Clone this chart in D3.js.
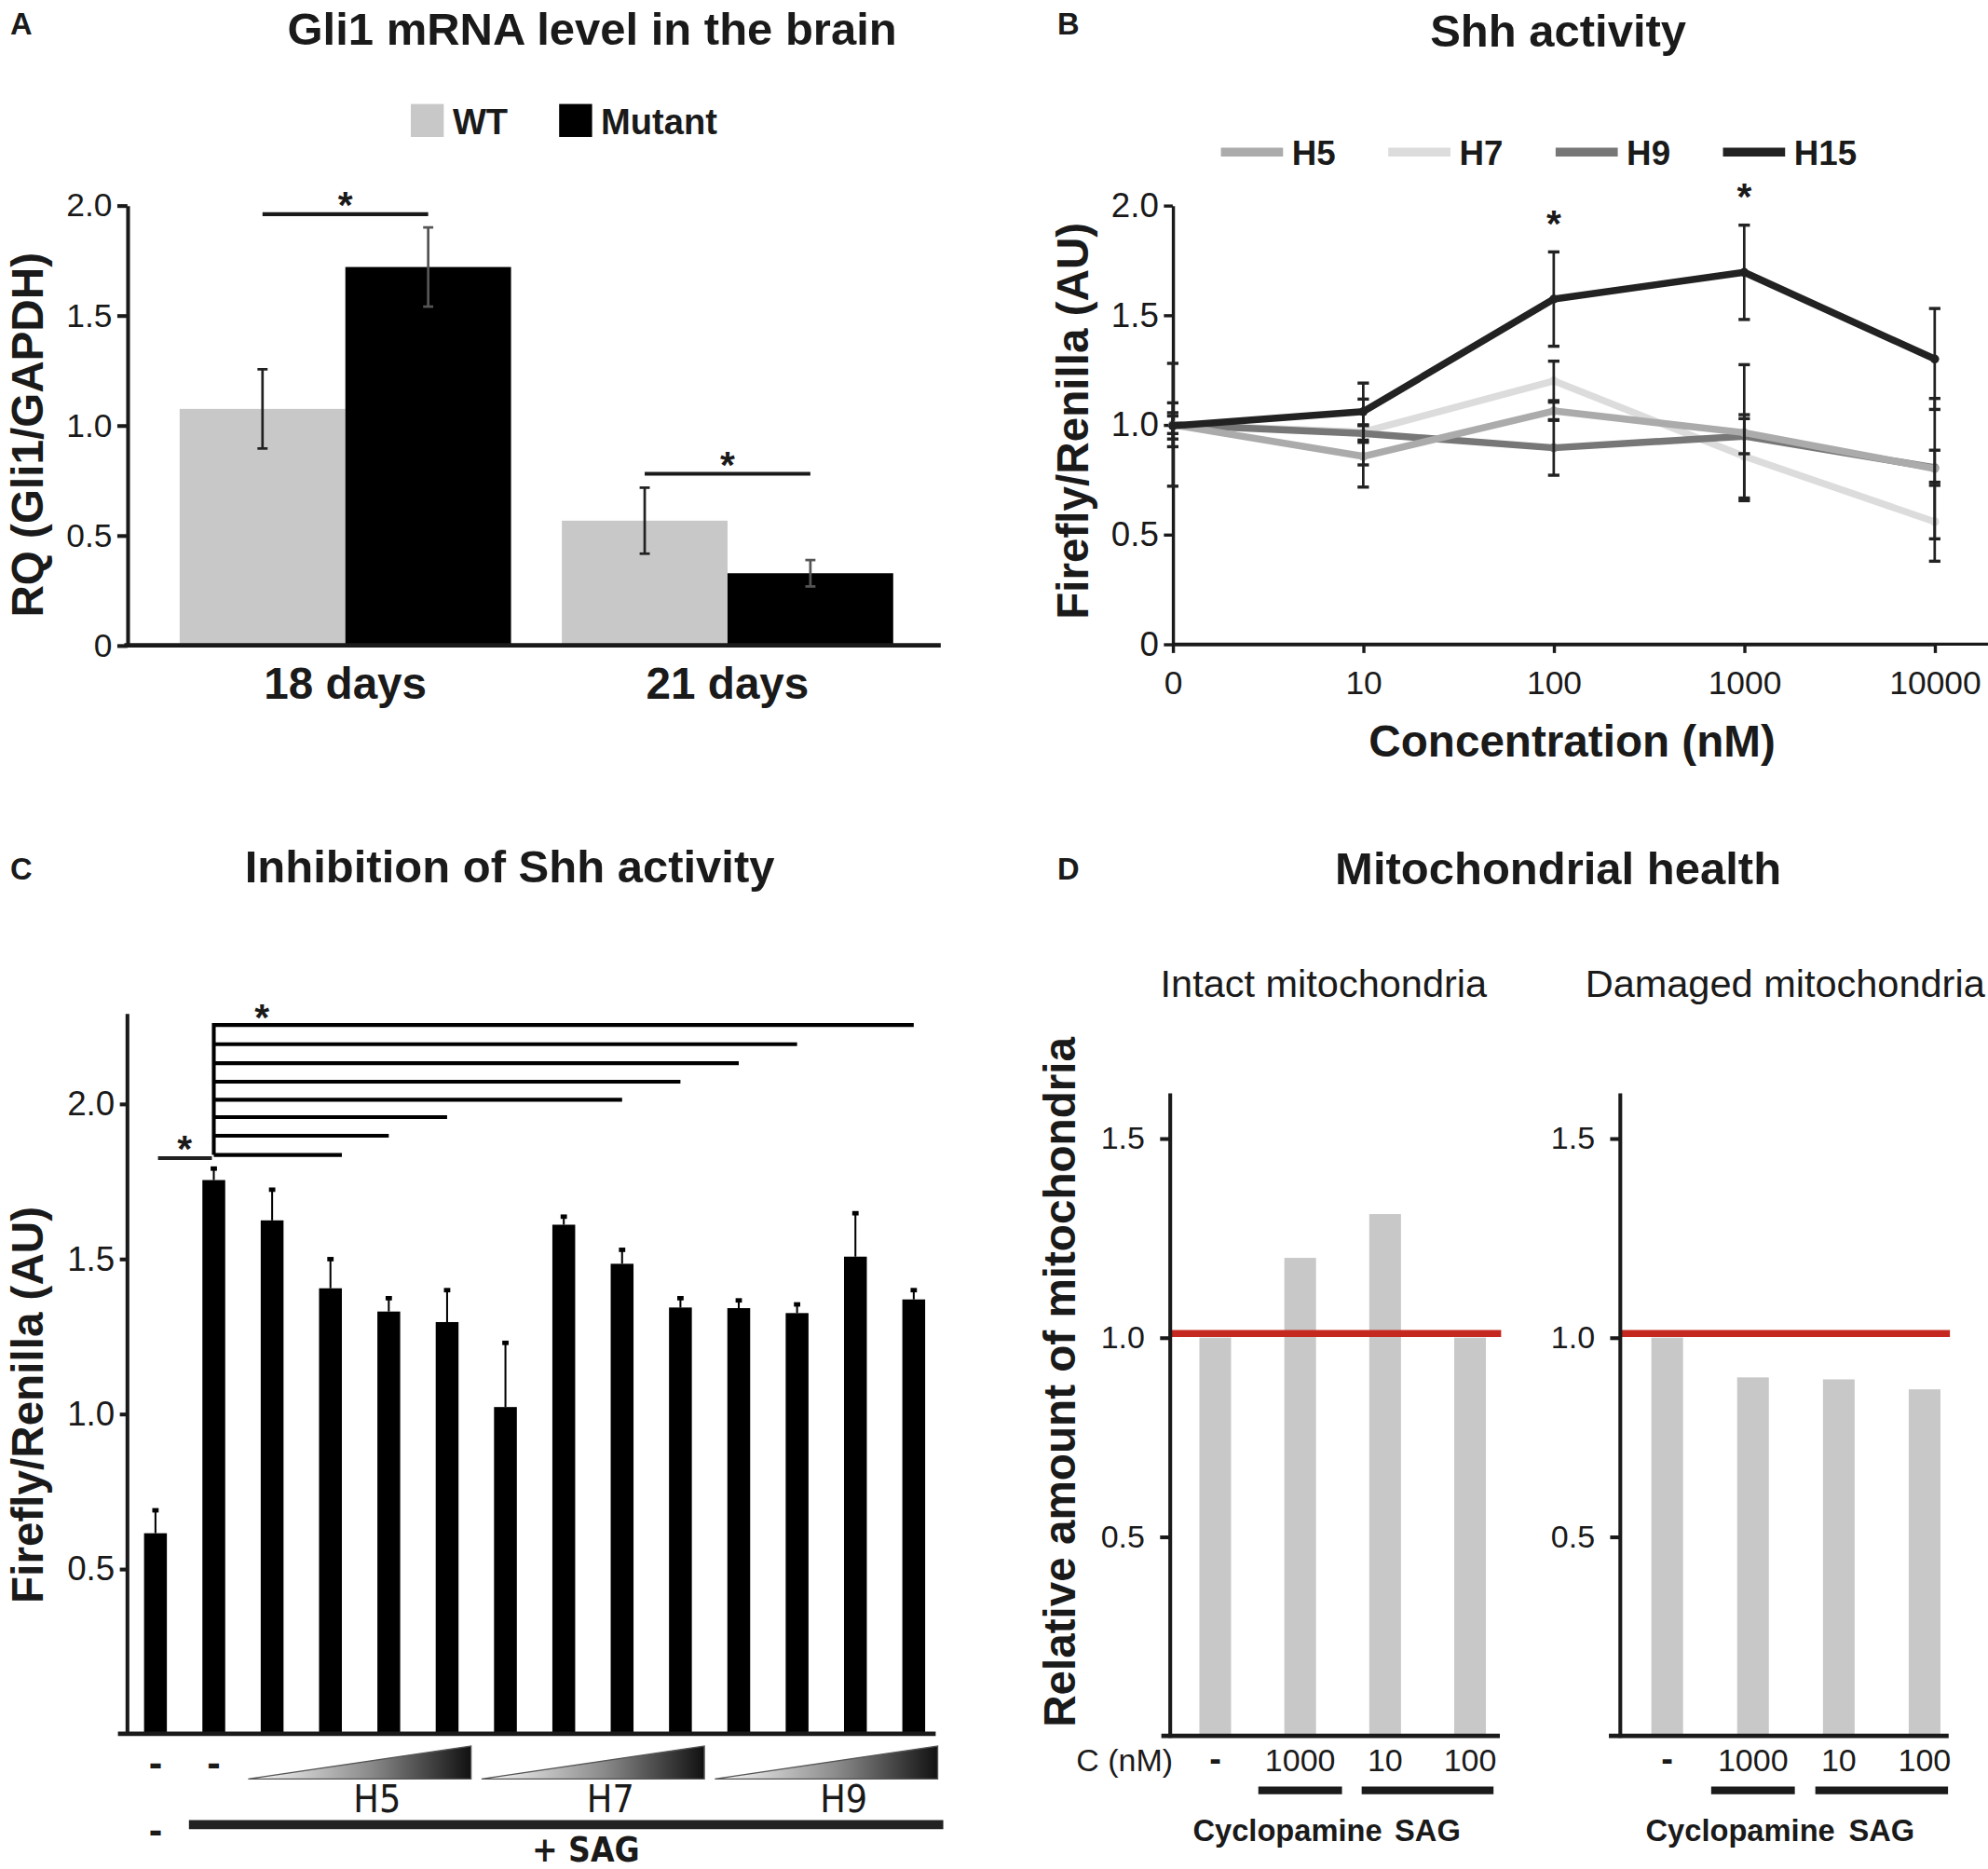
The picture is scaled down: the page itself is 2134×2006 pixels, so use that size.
<!DOCTYPE html>
<html><head><meta charset="utf-8">
<script src="https://cdn.jsdelivr.net/npm/d3@7"></script>
<style>html,body{margin:0;padding:0;background:#fff;}svg{display:block;}</style>
</head><body>
<svg id="chart"></svg>
<script>
// ---------------- DATA ----------------
// Panel A
const gliGroups = ["18 days", "21 days"];
const gliSeries = ["WT", "Mutant"];
const gliWT = [1.075, 0.567];
const gliWTErr = [0.18, 0.15];
const gliMutant = [1.72, 0.328];
const gliMutantErr = [0.18, 0.06];
const gliSigLevel = [1.96, 0.78];
const gliYTicks = [0, 0.5, 1.0, 1.5, 2.0];

// Panel B
const concLabels = ["0", "10", "100", "1000", "10000"];
const shhSeries = ["H5", "H7", "H9", "H15"];
const shhH5 = [1.0, 0.856, 1.063, 0.964, 0.80];
const shhH5Err = [0.10, 0.14, 0.04, 0.31, 0.32];
const shhH7 = [1.0, 0.967, 1.20, 0.856, 0.558];
const shhH7Err = [0.28, 0.15, 0.09, 0.19, 0.18];
const shhH9 = [1.0, 0.96, 0.895, 0.948, 0.804];
const shhH9Err = [0.04, 0.04, 0.125, 0.08, 0.08];
const shhH15 = [0.995, 1.06, 1.573, 1.695, 1.30];
const shhH15Err = [0.06, 0.13, 0.215, 0.215, 0.23];
const shhStars = ["100", "1000"];
const shhYTicks = [0, 0.5, 1.0, 1.5, 2.0];

// Panel C
const inhibBars = ["ctrl", "SAG", "H5-1", "H5-2", "H5-3", "H5-4", "H7-1", "H7-2", "H7-3", "H7-4", "H9-1", "H9-2", "H9-3", "H9-4"];
const inhibValues = [0.615, 1.754, 1.624, 1.405, 1.33, 1.296, 1.022, 1.61, 1.484, 1.343, 1.341, 1.325, 1.507, 1.369];
const inhibErr = [0.075, 0.038, 0.10, 0.095, 0.044, 0.104, 0.208, 0.027, 0.046, 0.031, 0.026, 0.029, 0.141, 0.031];
const inhibCompounds = ["H5", "H7", "H9"];
const inhibBracketEnds = ["H5-2", "H5-3", "H5-4", "H7-3", "H7-4", "H9-1", "H9-2", "H9-4"];
const inhibBracketLevels = [1.835, 1.897, 1.957, 2.013, 2.071, 2.131, 2.192, 2.254];
const inhibYTicks = [0.5, 1.0, 1.5, 2.0];

// Panel D
const mitoCats = ["-", "1000", "10", "100"];
const mitoIntact = [1.0, 1.20, 1.31, 1.0];
const mitoDamaged = [1.0, 0.90, 0.895, 0.87];
const mitoRef = 1.01;
const mitoYTicks = [0.5, 1.0, 1.5];

// ---------------- SETUP ----------------
const VW = 1568, VH = 1474;
const FF = "'Liberation Sans', Arial, Helvetica, sans-serif";
const FN = "'Liberation Sans Narrow', 'Arial Narrow', 'DejaVu Sans Condensed', sans-serif";
const INK = "#1a1a1a";
const svg = d3.select("#chart").attr("width", 2134).attr("height", 2006)
  .attr("viewBox", `0 0 ${VW} ${VH}`);
svg.append("rect").attr("width", VW).attr("height", VH).attr("fill", "#fff");

function txt(g, x, y, s, o = {}) {
  return g.append("text").attr("x", x).attr("y", y).text(s)
    .attr("font-family", o.ff || FF).attr("font-size", o.size || 24)
    .attr("font-weight", o.bold ? "bold" : "normal")
    .attr("text-anchor", o.anchor || "middle").attr("fill", o.fill || INK);
}
function vtxt(g, x, y, s, size) {
  return g.append("text").attr("transform", `translate(${x},${y}) rotate(-90)`)
    .attr("text-anchor", "middle").attr("font-family", FF).attr("font-size", size)
    .attr("font-weight", "bold").attr("fill", INK).text(s);
}
function line(g, x1, y1, x2, y2, w, c) {
  return g.append("line").attr("x1", x1).attr("y1", y1).attr("x2", x2).attr("y2", y2)
    .attr("stroke", c || INK).attr("stroke-width", w);
}
function styleAxis(ax, w, size, ff) {
  ax.select(".domain").attr("stroke", INK).attr("stroke-width", w);
  ax.selectAll(".tick line").attr("stroke", INK).attr("stroke-width", w);
  ax.selectAll(".tick text").attr("font-family", ff || FF).attr("font-size", size).attr("fill", INK);
}
const fmt = d => d === 0 ? "0" : d3.format(".1f")(d);

// ---------------- PANEL A ----------------
{
  const g = svg.append("g");
  txt(g, 8, 27, "A", { bold: true, size: 24, anchor: "start" });
  txt(g, 467, 35, "Gli1 mRNA level in the brain", { bold: true, size: 36 });
  const yA = d3.scaleLinear().domain([0, 2]).range([509, 162]);
  const xA = d3.scaleBand().domain(gliGroups).range([121.8, 724.4]).paddingInner(0.133).paddingOuter(0.066);
  const xS = d3.scaleBand().domain(gliSeries).range([0, xA.bandwidth()]);
  const col = { WT: "#c8c8c8", Mutant: "#000" };
  const leg = [{ s: "WT", x: 324 }, { s: "Mutant", x: 441 }];
  leg.forEach(l => {
    g.append("rect").attr("x", l.x).attr("y", 82).attr("width", 26).attr("height", 26).attr("fill", col[l.s]);
    txt(g, l.x + 33, 106, l.s, { bold: true, size: 28, anchor: "start" });
  });
  const data = gliGroups.flatMap((gr, i) => [
    { g: gr, s: "WT", v: gliWT[i], e: gliWTErr[i] },
    { g: gr, s: "Mutant", v: gliMutant[i], e: gliMutantErr[i] }]);
  g.selectAll("rect.bar").data(data).enter().append("rect").attr("class", "bar")
    .attr("x", d => xA(d.g) + xS(d.s)).attr("width", xS.bandwidth())
    .attr("y", d => yA(d.v)).attr("height", d => yA(0) - yA(d.v)).attr("fill", d => col[d.s]);
  data.forEach(d => {
    const cx = xA(d.g) + xS(d.s) + xS.bandwidth() / 2;
    const c = d.s === "WT" ? "#222" : "#555";
    line(g, cx, yA(d.v - d.e), cx, yA(d.v + d.e), 2, c);
    line(g, cx - 4, yA(d.v - d.e), cx + 4, yA(d.v - d.e), 2, c);
    line(g, cx - 4, yA(d.v + d.e), cx + 4, yA(d.v + d.e), 2, c);
  });
  gliGroups.forEach((gr, i) => {
    const x1 = xA(gr) + xS("WT") + xS.bandwidth() / 2;
    const x2 = xA(gr) + xS("Mutant") + xS.bandwidth() / 2;
    line(g, x1, yA(gliSigLevel[i]), x2, yA(gliSigLevel[i]), 3);
    txt(g, (x1 + x2) / 2, yA(gliSigLevel[i]) + 3, "*", { bold: true, size: 30 });
    txt(g, xA(gr) + xA.bandwidth() / 2, 551, gr, { bold: true, size: 35 });
  });
  const ax = g.append("g").attr("transform", "translate(100.5,0)")
    .call(d3.axisLeft(yA).tickValues(gliYTicks).tickFormat(fmt).tickSize(8).tickSizeOuter(0).tickPadding(4));
  styleAxis(ax, 3, 26);
  line(g, 98, yA(0), 742, yA(0), 3.5);
  vtxt(g, 34, 343, "RQ (Gli1/GAPDH)", 35);
}

// ---------------- PANEL B ----------------
{
  const g = svg.append("g");
  txt(g, 834, 27, "B", { bold: true, size: 24, anchor: "start" });
  txt(g, 1229, 37, "Shh activity", { bold: true, size: 36 });
  const xB = d3.scalePoint().domain(concLabels).range([925, 1526]);
  const yB = d3.scaleLinear().domain([0, 2]).range([508, 162]);
  const col = { H5: "#ababab", H7: "#dcdcdc", H9: "#777777", H15: "#222222" };
  const vals = { H5: shhH5, H7: shhH7, H9: shhH9, H15: shhH15 };
  const errs = { H5: shhH5Err, H7: shhH7Err, H9: shhH9Err, H15: shhH15Err };
  shhSeries.forEach((s, i) => {
    const x0 = 963 + i * 132;
    line(g, x0, 120, x0 + 49, 120, 7, col[s]);
    txt(g, x0 + 56, 130, s, { bold: true, size: 27, anchor: "start" });
  });
  const yax = g.append("g").attr("transform", "translate(925,0)")
    .call(d3.axisLeft(yB).tickValues(shhYTicks).tickFormat(fmt).tickSize(7).tickSizeOuter(0).tickPadding(4));
  styleAxis(yax, 2.5, 27);
  const xax = g.append("g").attr("transform", `translate(0,${yB(0)})`)
    .call(d3.axisBottom(xB).tickSize(7).tickSizeOuter(0).tickPadding(14));
  styleAxis(xax, 2.5, 26);
  line(g, 925, yB(0), 1568, yB(0), 2.5);
  const lg = d3.line().x((d, i) => xB(concLabels[i])).y(d => yB(d));
  ["H7", "H9", "H5", "H15"].forEach(s => {
    g.append("path").attr("d", lg(vals[s])).attr("fill", "none")
      .attr("stroke", col[s]).attr("stroke-width", 5.5).attr("stroke-linejoin", "round");
    g.selectAll(null).data(vals[s]).enter().append("circle")
      .attr("cx", (d, i) => xB(concLabels[i])).attr("cy", d => yB(d)).attr("r", 3.5).attr("fill", col[s]);
  });
  shhSeries.forEach(s => {
    vals[s].forEach((v, i) => {
      const cx = xB(concLabels[i]), e = errs[s][i];
      line(g, cx, yB(v - e), cx, yB(v + e), 2, "#222");
      line(g, cx - 4.5, yB(v - e), cx + 4.5, yB(v - e), 2.5, "#222");
      line(g, cx - 4.5, yB(v + e), cx + 4.5, yB(v + e), 2.5, "#222");
    });
  });
  shhStars.forEach(c => {
    const i = concLabels.indexOf(c);
    txt(g, xB(c), yB(shhH15[i] + shhH15Err[i]) - 12, "*", { bold: true, size: 30 });
  });
  txt(g, 1240, 597, "Concentration (nM)", { bold: true, size: 35 });
  vtxt(g, 858, 332, "Firefly/Renilla (AU)", 35);
}

// ---------------- PANEL C ----------------
{
  const g = svg.append("g");
  txt(g, 8, 694, "C", { bold: true, size: 24, anchor: "start" });
  txt(g, 402, 696, "Inhibition of Shh activity", { bold: true, size: 36 });
  const yC = d3.scaleLinear().domain([0, 2]).range([1359.6, 870.5]);
  const cBase = -0.032, cTop = 2.29;
  const xC = d3.scalePoint().domain(inhibBars).range([122.6, 720.7]);
  const step = xC.step(), bw = 18;
  g.selectAll("rect.bar").data(inhibValues).enter().append("rect").attr("class", "bar")
    .attr("x", (d, i) => xC(inhibBars[i]) - bw / 2).attr("width", bw)
    .attr("y", d => yC(d)).attr("height", d => yC(cBase) - yC(d)).attr("fill", "#000");
  inhibValues.forEach((v, i) => {
    const cx = xC(inhibBars[i]);
    line(g, cx, yC(v), cx, yC(v + inhibErr[i]), 1.5, "#000");
    g.append("rect").attr("x", cx - 2.5).attr("y", yC(v + inhibErr[i]) - 1.5).attr("width", 5).attr("height", 3.5).attr("fill", "#000");
  });
  const yax = g.append("g").attr("transform", "translate(100.5,0)")
    .call(d3.axisLeft(yC).tickValues(inhibYTicks).tickFormat(fmt).tickSize(6).tickSizeOuter(0).tickPadding(4));
  styleAxis(yax, 3, 27);
  yax.select(".domain").remove();
  line(g, 100.5, yC(cTop), 100.5, yC(cBase), 3);
  line(g, 93, yC(cBase), 738, yC(cBase), 3.5);
  const x0 = xC("SAG");
  line(g, x0, yC(d3.max(inhibBracketLevels)) - 1.5, x0, yC(d3.min(inhibBracketLevels)), 3, "#000");
  inhibBracketEnds.forEach((b, i) => {
    line(g, x0, yC(inhibBracketLevels[i]), xC(b) + (i === 0 ? bw / 2 : 0), yC(inhibBracketLevels[i]), 3, "#000");
  });
  txt(g, x0 + 38, yC(d3.max(inhibBracketLevels)) + 4, "*", { bold: true, size: 30 });
  const lvl0 = inhibBracketLevels[0] - 0.01;
  line(g, xC("ctrl") + 2, yC(lvl0), x0 - 1.5, yC(lvl0), 3, "#222");
  txt(g, (xC("ctrl") + x0) / 2, yC(lvl0) + 3, "*", { bold: true, size: 30 });
  const defs = svg.append("defs");
  const grad = defs.append("linearGradient").attr("id", "tri").attr("x1", "0").attr("x2", "1").attr("y1", "0").attr("y2", "0");
  grad.append("stop").attr("offset", "0").attr("stop-color", "#ffffff");
  grad.append("stop").attr("offset", "0.55").attr("stop-color", "#8a8a8a");
  grad.append("stop").attr("offset", "1").attr("stop-color", "#111111");
  txt(g, xC("ctrl"), 1401, "-", { bold: true, size: 32 });
  txt(g, xC("SAG"), 1401, "-", { bold: true, size: 32 });
  inhibCompounds.forEach(c => {
    const members = inhibBars.filter(b => b.startsWith(c + "-"));
    const mid = d3.mean(members, b => xC(b));
    const hw = step * 1.91;
    g.append("path").attr("d", `M${mid - hw},1403 L${mid + hw},1377 L${mid + hw},1403 Z`)
      .attr("fill", "url(#tri)").attr("stroke", "#555").attr("stroke-width", 1);
    txt(g, mid + step * 0.3, 1429, c, { ff: FN, size: 30 });
  });
  txt(g, xC("ctrl"), 1454, "-", { bold: true, size: 32 });
  line(g, 149, 1439, 744, 1439, 7, "#222");
  txt(g, 462, 1468, "+ SAG", { ff: FN, bold: true, size: 27 });
  vtxt(g, 34, 1108, "Firefly/Renilla (AU)", 35);
}

// ---------------- PANEL D ----------------
{
  const g = svg.append("g");
  txt(g, 834, 694, "D", { bold: true, size: 24, anchor: "start" });
  txt(g, 1229, 697, "Mitochondrial health", { bold: true, size: 36 });
  const yD = d3.scaleLinear().domain([0, 1.5]).range([1369, 897.8]);
  const dTop = 1.613;
  vtxt(g, 848, 1090, "Relative amount of mitochondria", 35);
  const subs = [
    { title: "Intact mitochondria", tx: 1044, ax: 923, x0: 916, x1: 1183, r: [958.5, 1159.5], vals: mitoIntact, unit: true },
    { title: "Damaged mitochondria", tx: 1408, ax: 1278, x0: 1269, x1: 1537, r: [1315, 1518], vals: mitoDamaged, unit: false }
  ];
  subs.forEach(sp => {
    const xD = d3.scalePoint().domain(mitoCats).range(sp.r);
    txt(g, sp.tx, 786, sp.title, { size: 30.5 });
    g.selectAll(null).data(sp.vals).enter().append("rect")
      .attr("x", (d, i) => xD(mitoCats[i]) - 12.5).attr("width", 25)
      .attr("y", d => yD(d)).attr("height", d => yD(0) - yD(d)).attr("fill", "#c8c8c8");
    line(g, sp.ax, yD(mitoRef), sp.x1 + 1, yD(mitoRef), 5.5, "#c4281e");
    const yax = g.append("g").attr("transform", `translate(${sp.ax},0)`)
      .call(d3.axisLeft(yD).tickValues(mitoYTicks).tickFormat(d3.format(".1f")).tickSize(8).tickSizeOuter(0).tickPadding(12));
    styleAxis(yax, 3, 25);
    yax.select(".domain").remove();
    line(g, sp.ax, yD(dTop), sp.ax, yD(0) + 1.5, 3);
    line(g, sp.x0, yD(0), sp.x1, yD(0), 3.5);
    mitoCats.forEach(c => {
      if (c === "-") txt(g, xD(c), 1397, "-", { bold: true, size: 28 });
      else txt(g, xD(c), 1397, c, { size: 25 });
    });
    if (sp.unit) txt(g, sp.ax - 36, 1397, "C (nM)", { size: 25 });
    const cx = xD("1000");
    line(g, cx - 33, 1412, cx + 33, 1412, 6);
    const sa = xD("10") - 18.5, sb = xD("100") + 18.5;
    line(g, sa, 1412, sb, 1412, 6);
    txt(g, cx - 10, 1452, "Cyclopamine", { bold: true, size: 24 });
    txt(g, (sa + sb) / 2, 1452, "SAG", { bold: true, size: 24 });
  });
}
</script>
</body></html>
